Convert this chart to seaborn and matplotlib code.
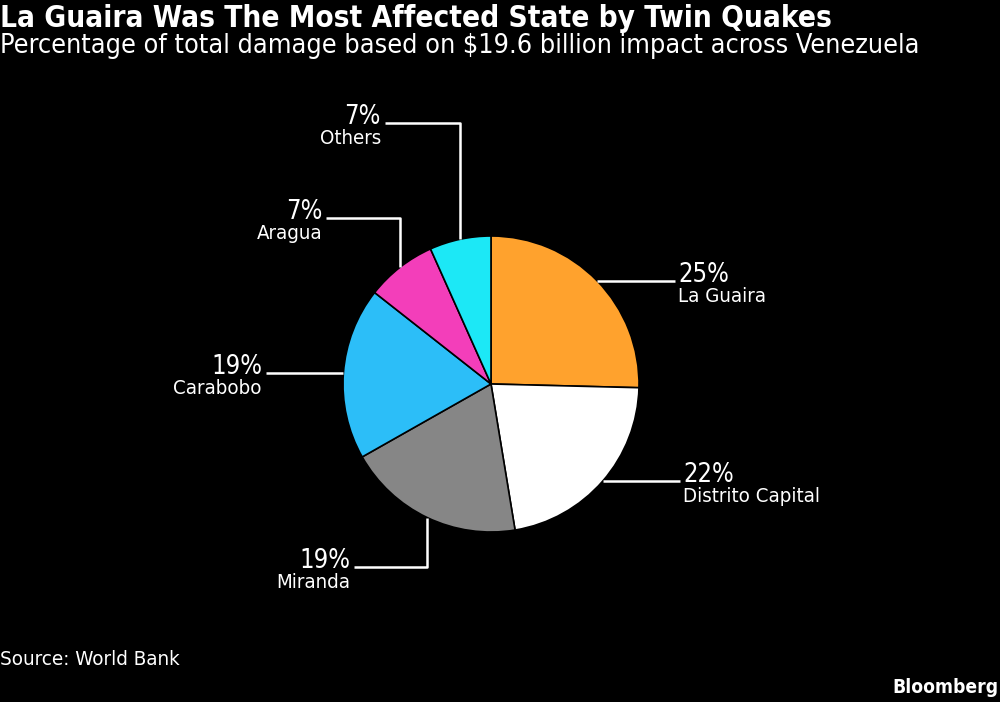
import matplotlib
matplotlib.use("Agg")
import numpy as np
import seaborn as sns
import matplotlib.pyplot as plt
from matplotlib import font_manager

# data
states = ["La Guaira", "Distrito Capital", "Miranda", "Carabobo", "Aragua", "Others"]
shares = [25.4, 22.0, 19.4, 18.8, 7.7, 6.7]
share_labels = ["25%", "22%", "19%", "19%", "7%", "7%"]
colors = ["#FFA22D", "#FFFFFF", "#868686", "#2CBEF8", "#F33EBA", "#1CE8F6"]

title = "La Guaira Was The Most Affected State by Twin Quakes"
subtitle = "Percentage of total damage based on $19.6 billion impact across Venezuela"
source = "Source: World Bank"
brand = "Bloomberg"

sns.set_theme(style="dark", rc={"figure.facecolor": "black", "axes.facecolor": "black",
                                "text.color": "white"})

# pick a narrow face if one is installed, Bloomberg's font is condensed
fonts = font_manager.fontManager.ttflist
names = {f.name for f in fonts}
family = "Liberation Sans"
stretch = "normal"
if "Liberation Sans Narrow" in names:
    family = "Liberation Sans Narrow"
elif any(f.name == "DejaVu Sans" and str(f.stretch) in ("condensed", "semi-condensed") for f in fonts):
    family = "DejaVu Sans"
    stretch = "condensed"
elif "Roboto Condensed" in names:
    family = "Roboto Condensed"
plt.rcParams["font.family"] = [family, "DejaVu Sans"]
plt.rcParams["font.stretch"] = stretch

H = 702
fig = plt.figure(figsize=(10, 7.02), dpi=100, facecolor="black")
ax = fig.add_axes([0, 0, 1, 1])
ax.set_facecolor("black")

cx, cy, R = 491, H - 384, 148
wedges, _ = ax.pie(shares, colors=colors, startangle=90, counterclock=False,
                   center=(cx, cy), radius=R, frame=False,
                   wedgeprops=dict(edgecolor="black", linewidth=1.2))
ax.set_xlim(0, 1000)
ax.set_ylim(0, H)
ax.set_aspect("equal")
ax.axis("off")

# leader layout: "h" = straight across, "v" = up/down then across (image y for level)
layout = {
    "La Guaira": dict(kind="h", end=675),
    "Distrito Capital": dict(kind="h", end=680),
    "Miranda": dict(kind="v", level=567, end=354),
    "Carabobo": dict(kind="h", end=266),
    "Aragua": dict(kind="v", level=218, end=326),
    "Others": dict(kind="v", level=123, end=385),
}

pct_texts, name_texts = [], []
for w, state, lab in zip(wedges, states, share_labels):
    mid = np.deg2rad((w.theta1 + w.theta2) / 2)
    x0, y0 = cx + R * np.cos(mid), cy + R * np.sin(mid)
    spec = layout[state]
    if spec["kind"] == "h":
        yl = y0
        xs, ys = [x0, spec["end"]], [y0, y0]
    else:
        yl = H - spec["level"]
        xs, ys = [x0, x0, spec["end"]], [y0, yl, yl]
    ax.plot(xs, ys, color="white", lw=1.8, solid_capstyle="butt", zorder=3)
    right = spec["end"] > x0
    tx = spec["end"] + 3 if right else spec["end"] - 4
    ha = "left" if right else "right"
    pct_texts.append(ax.text(tx, yl - 1, lab, ha=ha, va="baseline", fontsize=20, color="white"))
    name_texts.append(ax.text(tx, yl - 6, state, ha=ha, va="top", fontsize=12, color="white"))

t_title = fig.text(0.0, 1 - 4 / H, title, ha="left", va="top", fontsize=20,
                   fontweight="bold", color="white")
t_sub = fig.text(0.0, 1 - 33 / H, subtitle, ha="left", va="top", fontsize=18, color="white")
t_src = fig.text(0.0, 1 - 650 / H, source, ha="left", va="top", fontsize=12, color="white")
t_brand = fig.text(0.998, 1 - 678 / H, brand, ha="right", va="top", fontsize=12,
                   fontweight="bold", color="white")


def fit(texts, sample, width):
    # scale font so the sample text spans the measured width in pixels
    for _ in range(2):
        r = fig.canvas.get_renderer()
        cur = sample.get_window_extent(r).width
        size = sample.get_fontsize() * width / cur
        for t in texts:
            t.set_fontsize(size)


fit([t_title], t_title, 833)
fit([t_sub], t_sub, 918)
fit([t_src], t_src, 180)
fit([t_brand], t_brand, 106)
fit(pct_texts, pct_texts[0], 51)
fit(name_texts, name_texts[1], 137)

fig.savefig("out.png", dpi=100, facecolor="black")
